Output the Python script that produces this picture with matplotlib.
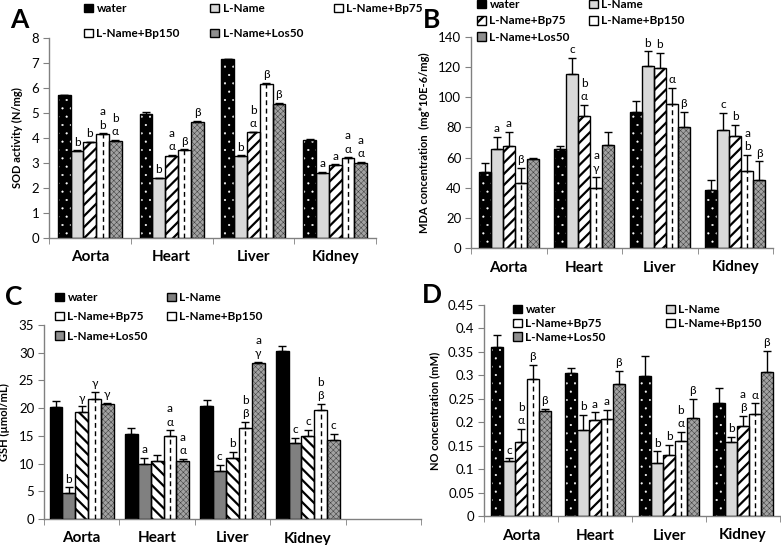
import matplotlib
matplotlib.use('Agg')
import matplotlib.pyplot as plt
import numpy as np
from matplotlib.patches import Patch

plt.rcParams['font.family'] = ['Lato', 'DejaVu Sans']
plt.rcParams['hatch.linewidth'] = 1.6

organs = ['Aorta', 'Heart', 'Liver', 'Kidney']
groups = ['water', 'L-Name', 'L-Name+Bp75', 'L-Name+Bp150', 'L-Name+Los50']

# ---- Panel A : SOD activity ----
sod_water = [5.70, 4.95, 7.13, 3.91]
sod_lname = [3.47, 2.37, 3.27, 2.60]
sod_bp75 = [3.81, 3.27, 4.21, 2.90]
sod_bp150 = [4.13, 3.50, 6.16, 3.18]
sod_los50 = [3.88, 4.64, 5.34, 3.00]
sod_err_water = [0.02, 0.08, 0.03, 0.02]
sod_err_lname = [0.02, 0.02, 0.02, 0.02]
sod_err_bp75 = [0.03, 0.03, 0.03, 0.03]
sod_err_bp150 = [0.04, 0.03, 0.03, 0.03]
sod_err_los50 = [0.03, 0.04, 0.05, 0.04]
sod_lab_water = ['', '', '', '']
sod_lab_lname = ['b', 'b', 'b', 'a']
sod_lab_bp75 = ['b', 'a\nα', 'b\nα', 'a']
sod_lab_bp150 = ['a\nb', 'β', 'β', 'a\nα']
sod_lab_los50 = ['b\nα', 'β', 'β', 'a\nα']

# ---- Panel B : MDA ----
mda_water = [50.2, 65.5, 90.3, 38.3]
mda_lname = [65.7, 115.7, 120.6, 78.5]
mda_bp75 = [67.5, 87.8, 119.5, 74.0]
mda_bp150 = [43.1, 39.6, 95.6, 51.3]
mda_los50 = [59.3, 68.1, 80.0, 45.4]
mda_err_water = [6.4, 2.5, 7.0, 6.7]
mda_err_lname = [8.0, 10.3, 9.9, 11.1]
mda_err_bp75 = [9.5, 7.2, 9.9, 7.9]
mda_err_bp150 = [9.8, 7.4, 10.6, 10.7]
mda_err_los50 = [0.7, 9.1, 10.3, 12.1]
mda_lab_water = ['', '', '', '']
mda_lab_lname = ['a', 'c', 'b', 'c']
mda_lab_bp75 = ['a', 'b\nα', 'b', 'b']
mda_lab_bp150 = ['β', 'a\nγ', 'α', 'a\nb']
mda_lab_los50 = ['', '', 'β', 'β']

# ---- Panel C : GSH ----
gsh_water = [20.2, 15.3, 20.4, 30.3]
gsh_lname = [4.7, 10.0, 8.6, 13.7]
gsh_bp75 = [19.3, 10.4, 11.0, 15.0]
gsh_bp150 = [21.7, 15.0, 16.4, 19.7]
gsh_los50 = [20.8, 10.4, 28.2, 14.3]
gsh_err_water = [1.0, 1.1, 1.1, 1.0]
gsh_err_lname = [1.0, 1.0, 1.1, 1.0]
gsh_err_bp75 = [1.0, 1.1, 1.1, 1.1]
gsh_err_bp150 = [1.2, 1.0, 1.1, 1.1]
gsh_err_los50 = [0.2, 0.5, 0.2, 1.1]
gsh_lab_water = ['', '', '', '']
gsh_lab_lname = ['b', 'a', 'c', 'c']
gsh_lab_bp75 = ['γ', '', 'b', 'c']
gsh_lab_bp150 = ['γ', 'a\nα', 'b\nβ', 'b\nβ']
gsh_lab_los50 = ['γ', 'a\nα', 'a\nγ', 'c']

# ---- Panel D : NO ----
no_water = [0.360, 0.306, 0.298, 0.241]
no_lname = [0.117, 0.184, 0.112, 0.157]
no_bp75 = [0.157, 0.204, 0.130, 0.193]
no_bp150 = [0.293, 0.207, 0.160, 0.217]
no_los50 = [0.223, 0.281, 0.209, 0.308]
no_err_water = [0.025, 0.009, 0.044, 0.032]
no_err_lname = [0.006, 0.031, 0.026, 0.011]
no_err_bp75 = [0.028, 0.017, 0.022, 0.021]
no_err_bp150 = [0.029, 0.019, 0.019, 0.023]
no_err_los50 = [0.005, 0.029, 0.040, 0.044]
no_lab_water = ['', '', '', '']
no_lab_lname = ['c', 'b', 'b', 'b']
no_lab_bp75 = ['b\nα', 'a', 'b', 'a\nβ']
no_lab_bp150 = ['β', 'a', 'b\nα', 'α']
no_lab_los50 = ['β', 'β', 'β', 'β']

W, H = 781, 545
fig = plt.figure(figsize=(W / 100, H / 100), dpi=100)

SPINE = '#808080'


def px_axes(left, right, y0, ytop):
    return fig.add_axes([left / W, (H - y0) / H, (right - left) / W, (y0 - ytop) / H])


def hatched_bar(ax, x, v, bw, face, hcolor, hatch, hlw, z):
    with plt.rc_context({'hatch.linewidth': hlw}):
        bars = ax.bar(x, v, bw, color=face, edgecolor=hcolor, hatch=hatch,
                      linewidth=0, zorder=z)
    for b in bars:
        if hasattr(b, 'set_hatch_linewidth'):
            b.set_hatch_linewidth(hlw)
    return bars


def draw_panel(ax, vals, errs, labs, styles, nslots, gw, ymax, ystep, ylabel,
               ytickfmt, label_fs=8.5):
    n = len(vals)
    bw = gw / n
    xc = np.arange(len(organs)) + 0.5
    for j, (v, e, lb, st) in enumerate(zip(vals, errs, labs, styles)):
        x = xc + (j - (n - 1) / 2) * bw
        kind = st['kind']
        if kind == 'dots':
            hatched_bar(ax, x, v, bw, 'black', 'white', '..', 0.3, 2)
        elif kind == 'hatch':
            hatched_bar(ax, x, v, bw, 'white', 'black', st['hatch'], 1.6, 2)
        elif kind == 'check':
            hatched_bar(ax, x, v, bw, '#a2a2a2', '#3c3c3c', 'xxxxxx', 0.35, 2)
        elif kind == 'dash':
            ax.bar(x, v, bw, color='white', linewidth=0, zorder=2)
            ax.vlines(x, 0, v, colors='black', linestyles=(0, (3.5, 2.5)),
                      linewidth=1, zorder=3)
        else:
            ax.bar(x, v, bw, color=st['color'], linewidth=0, zorder=2)
        ax.bar(x, v, bw, fill=False, edgecolor='black', linewidth=1, zorder=3)
        ax.errorbar(x, v, yerr=[np.zeros(len(e)), e], fmt='none', ecolor='black',
                    elinewidth=1, capsize=3, capthick=1, zorder=4)
        for xi, vi, ei, t in zip(x, v, e, lb):
            if t:
                ax.annotate(t, (xi, vi + ei), xytext=(0, 2), textcoords='offset points',
                            ha='center', va='bottom', fontsize=label_fs,
                            linespacing=1.25, zorder=5)
    ax.set_xlim(0, nslots)
    ax.set_ylim(0, ymax)
    ticks = np.arange(0, ymax + ystep / 2, ystep)
    ax.set_yticks(ticks)
    ax.set_yticklabels([ytickfmt(t) for t in ticks])
    ax.set_xticks(xc)
    ax.set_xticklabels(organs, fontsize=11, fontweight='bold')
    ax.set_xticks(np.arange(0, nslots + 1), minor=True)
    ax.tick_params(axis='x', which='major', length=0, pad=9)
    ax.tick_params(axis='x', which='minor', length=4, color=SPINE, direction='out')
    ax.tick_params(axis='y', length=4, color=SPINE, labelsize=9.5, pad=3)
    for s in ['top', 'right']:
        ax.spines[s].set_visible(False)
    for s in ['left', 'bottom']:
        ax.spines[s].set_color(SPINE)
        ax.spines[s].set_linewidth(1)
    ax.set_ylabel(ylabel, fontsize=8, fontweight='bold', labelpad=6)


def fmt_int(t):
    return '%d' % round(t)


def fmt_dec(t):
    s = ('%.2f' % t).rstrip('0').rstrip('.')
    return s if s else '0'


st_abd = [
    {'kind': 'dots'},
    {'kind': 'solid', 'color': '#d9d9d9'},
    {'kind': 'hatch', 'hatch': '///'},
    {'kind': 'dash'},
    {'kind': 'check'},
]
st_c = [
    {'kind': 'solid', 'color': 'black'},
    {'kind': 'solid', 'color': '#808080'},
    {'kind': 'hatch', 'hatch': '\\\\\\'},
    {'kind': 'dash'},
    {'kind': 'check'},
]


def legend_handles(sts):
    hs = []
    for st in sts:
        if st['kind'] == 'dots':
            hs.append(Patch(facecolor='black', edgecolor='black'))
        elif st['kind'] == 'hatch':
            hs.append(Patch(facecolor='white', edgecolor='black', hatch=st['hatch'][0]))
        elif st['kind'] == 'dash':
            hs.append(Patch(facecolor='white', edgecolor='black'))
        elif st['kind'] == 'check':
            hs.append(Patch(facecolor='#8e8e8e', edgecolor='black'))
        else:
            hs.append(Patch(facecolor=st['color'], edgecolor='black'))
    return hs


def add_legend(ax, sts, order, ncol, x, y, colsp, rowsp):
    hs = legend_handles(sts)
    leg = ax.legend([hs[i] for i in order], [groups[i] for i in order], ncol=ncol,
                    loc='upper left', bbox_to_anchor=(x / W, 1 - y / H),
                    bbox_transform=fig.transFigure, frameon=False,
                    handlelength=0.75, handleheight=0.75, handletextpad=0.3,
                    columnspacing=colsp, labelspacing=rowsp, borderpad=0,
                    borderaxespad=0, prop={'weight': 'bold', 'size': 8.5})
    leg.set_zorder(10)


# Panel A
axA = px_axes(49, 376, 237.7, 37.7)
draw_panel(axA, [sod_water, sod_lname, sod_bp75, sod_bp150, sod_los50],
           [sod_err_water, sod_err_lname, sod_err_bp75, sod_err_bp150, sod_err_los50],
           [sod_lab_water, sod_lab_lname, sod_lab_bp75, sod_lab_bp150, sod_lab_los50],
           st_abd, 4, 0.78, 8, 1, 'SOD activity (N/mg)', fmt_int)
add_legend(axA, st_abd, [0, 3, 1, 4, 2], 3, 84, 3, 2.6, 1.2)

# Panel B
axB = px_axes(471, 773, 248, 37)
draw_panel(axB, [mda_water, mda_lname, mda_bp75, mda_bp150, mda_los50],
           [mda_err_water, mda_err_lname, mda_err_bp75, mda_err_bp150, mda_err_los50],
           [mda_lab_water, mda_lab_lname, mda_lab_bp75, mda_lab_bp150, mda_lab_los50],
           st_abd, 4, 0.8, 140, 20, 'MDA concentration  (mg*10E-6/mg)', fmt_int)
add_legend(axB, st_abd, [0, 2, 4, 1, 3], 2, 477, -1, 1.6, 0.45)

# Panel C
axC = px_axes(44, 421, 519, 325)
draw_panel(axC, [gsh_water, gsh_lname, gsh_bp75, gsh_bp150, gsh_los50],
           [gsh_err_water, gsh_err_lname, gsh_err_bp75, gsh_err_bp150, gsh_err_los50],
           [gsh_lab_water, gsh_lab_lname, gsh_lab_bp75, gsh_lab_bp150, gsh_lab_los50],
           st_c, 5, 0.85, 35, 5, 'GSH (µmol/mL)', fmt_int)
add_legend(axC, st_c, [0, 2, 4, 1, 3], 2, 55, 292, 1.6, 0.7)

# Panel D
axD = px_axes(484, 780, 516, 305)
draw_panel(axD, [no_water, no_lname, no_bp75, no_bp150, no_los50],
           [no_err_water, no_err_lname, no_err_bp75, no_err_bp150, no_err_los50],
           [no_lab_water, no_lab_lname, no_lab_bp75, no_lab_bp150, no_lab_los50],
           st_abd, 4, 0.8, 0.45, 0.05, 'NO concentration (mM)', fmt_dec)
add_legend(axD, st_abd, [0, 2, 4, 1, 3], 2, 513, 304, 5.1, 0.25)

for letter, x, y in [('A', 10, 8), ('B', 423, 8), ('C', 5, 285), ('D', 422, 283)]:
    fig.text(x / W, 1 - y / H, letter, fontsize=19, fontweight='bold', va='top', ha='left')

fig.savefig('out.png', dpi=100)
